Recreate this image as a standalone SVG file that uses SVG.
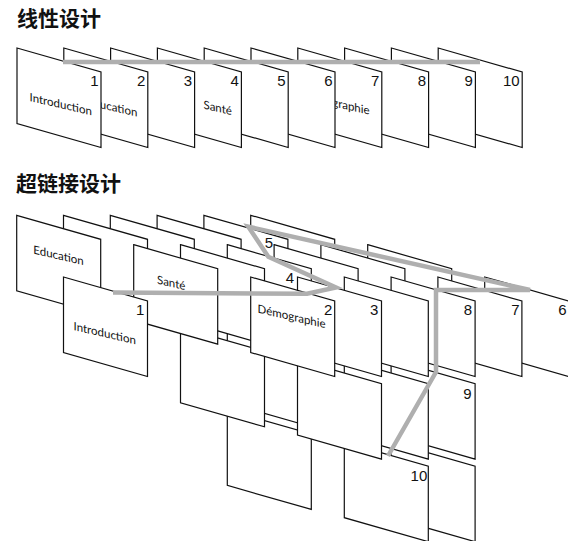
<svg xmlns="http://www.w3.org/2000/svg" width="568" height="541" viewBox="0 0 568 541">
<style>
.num{font-family:"Liberation Sans",Arial,sans-serif;font-size:15px;fill:#111;text-anchor:end}
.lbl{font-family:Lato,"Open Sans",sans-serif;font-size:11.5px;fill:#111}
.title{font-family:"Noto Sans CJK SC",sans-serif;font-size:21px;font-weight:700;fill:#111}
.link{fill:none;stroke:#afafaf;stroke-width:4.5;stroke-linejoin:miter}
</style>
<defs>
<path id="card" d="M0,0 L84,24 L84,99.5 L0,75.5 Z" fill="#fff" stroke="#111" stroke-width="1.2"/>
</defs>
<rect width="568" height="541" fill="#fff"/>
<text class="title" x="17" y="26">线性设计</text>
<text class="title" x="16" y="191">超链接设计</text>

<g id="linear">
<g id="lin-10"><use href="#card" x="438.2" y="48"/><text class="num" x="519.7" y="86">10</text></g>
<g id="lin-9"><use href="#card" x="391.4" y="48"/><text class="num" x="472.9" y="86">9</text></g>
<g id="lin-8"><use href="#card" x="344.6" y="48"/><text class="num" x="426.1" y="86">8</text></g>
<g id="lin-7"><use href="#card" x="297.8" y="48"/><text class="lbl" transform="translate(301.5,99) skewY(13)">Démographie</text><text class="num" x="379.3" y="86">7</text></g>
<g id="lin-6"><use href="#card" x="251" y="48"/><text class="num" x="332.5" y="86">6</text></g>
<g id="lin-5"><use href="#card" x="204.2" y="48"/><text class="num" x="285.7" y="86">5</text></g>
<g id="lin-4"><use href="#card" x="157.4" y="48"/><text class="lbl" transform="translate(203.5,108.5) skewY(13)">Santé</text><text class="num" x="238.9" y="86">4</text></g>
<g id="lin-3"><use href="#card" x="110.6" y="48"/><text class="num" x="192.1" y="86">3</text></g>
<g id="lin-2"><use href="#card" x="63.8" y="48"/><text class="lbl" transform="translate(87,105) skewY(13)">Education</text><text class="num" x="145.3" y="86">2</text></g>
<g id="lin-1"><use href="#card" x="17" y="48"/><text class="lbl" transform="translate(29.5,101) skewY(13)">Introduction</text><text class="num" x="98.5" y="86">1</text></g>
</g>

<g id="hypertext">
<g id="h-l2-b0"><use href="#card" x="227.3" y="409.9"/></g>
<g id="h-l2-c1"><use href="#card" x="391.1" y="442.2"/></g>
<g id="h-10"><use href="#card" x="344.3" y="442.2"/><text class="num" x="427.3" y="480.5">10</text></g>
<g id="h-l1-b1"><use href="#card" x="227.3" y="327.3"/></g>
<g id="h-l1-b0"><use href="#card" x="180.5" y="327.3"/></g>
<g id="h-9"><use href="#card" x="391.1" y="359.6"/><text class="num" x="471.5" y="399.3">9</text></g>
<g id="h-l1-c1"><use href="#card" x="344.3" y="359.6"/></g>
<g id="h-l1-c0"><use href="#card" x="297.5" y="359.6"/></g>
<g id="h-a5"><use href="#card" x="250.7" y="215.3"/></g>
<g id="h-5"><use href="#card" x="203.9" y="215.3"/><text class="num" x="273" y="247.7">5</text></g>
<g id="h-a3"><use href="#card" x="157.1" y="215.3"/></g>
<g id="h-a2"><use href="#card" x="110.3" y="215.3"/></g>
<g id="h-a1"><use href="#card" x="63.5" y="215.3"/></g>
<g id="h-education"><use href="#card" x="16.7" y="215.3"/><text class="lbl" transform="translate(33.3,253.5) skewY(13)">Education</text></g>
<g id="h-b5"><use href="#card" x="367.7" y="244.7"/></g>
<g id="h-b4"><use href="#card" x="320.9" y="244.7"/></g>
<g id="h-b3"><use href="#card" x="274.1" y="244.7"/></g>
<g id="h-4"><use href="#card" x="227.3" y="244.7"/><text class="num" x="294.2" y="282.7">4</text></g>
<g id="h-b1"><use href="#card" x="180.5" y="244.7"/></g>
<g id="h-sante"><use href="#card" x="133.7" y="244.7"/><text class="lbl" transform="translate(157,283.5) skewY(13)">Santé</text></g>
<g id="h-6"><use href="#card" x="484.7" y="277"/><text class="num" x="566.5" y="315">6</text></g>
<g id="h-7"><use href="#card" x="437.9" y="277"/><text class="num" x="519.5" y="315">7</text></g>
<g id="h-8"><use href="#card" x="391.1" y="277"/><text class="num" x="472" y="315">8</text></g>
<g id="h-c2"><use href="#card" x="344.3" y="277"/></g>
<g id="h-3"><use href="#card" x="297.5" y="277"/><text class="num" x="378.3" y="315">3</text></g>
<g id="h-2"><use href="#card" x="250.7" y="277"/><text class="lbl" transform="translate(257.5,312.5) skewY(13)">Démographie</text><text class="num" x="332.3" y="315">2</text></g>
<g id="h-1"><use href="#card" x="63.5" y="277"/><text class="lbl" transform="translate(73.5,330) skewY(13)">Introduction</text><text class="num" x="144.3" y="315">1</text></g>
</g>

<g id="connectors">
<line class="link" x1="63" y1="62" x2="480" y2="62"/>
<polyline class="link" points="113,292.5 307,293.8 336,287.5 268.3,256.7 248.3,226.7 530,290 436,290 436,372 388,456"/>
</g>
</svg>
